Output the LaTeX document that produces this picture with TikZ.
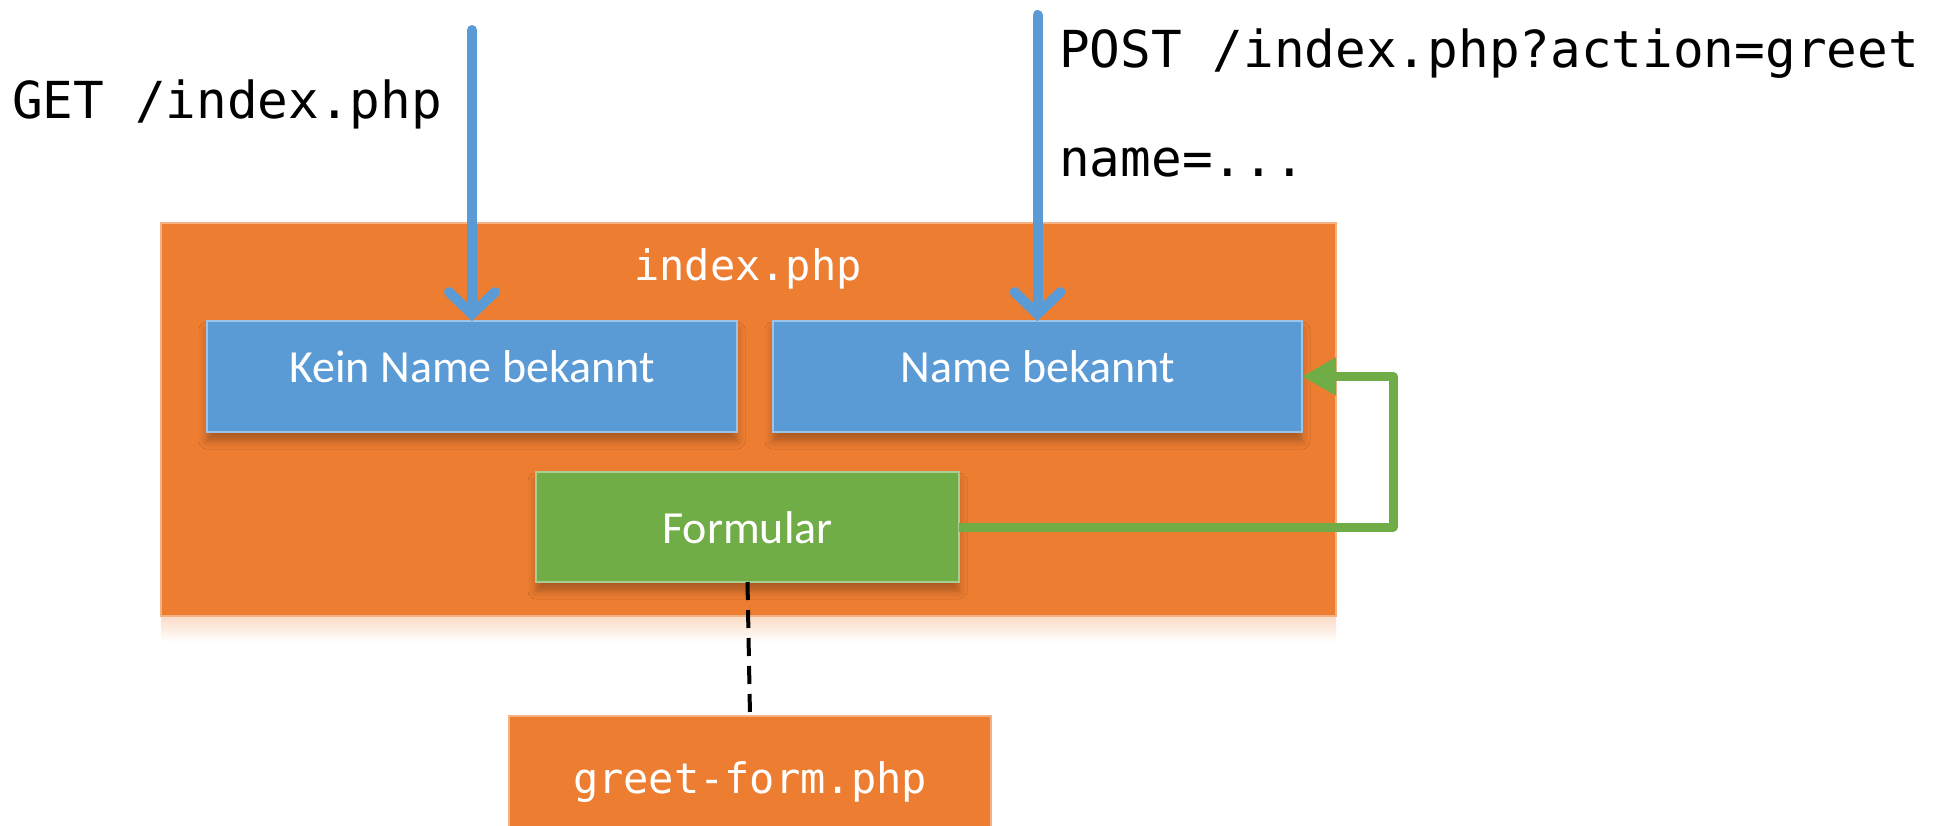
\documentclass[tikz,border=0pt]{standalone}
\usepackage{fontspec}
\setmainfont{Carlito}
\setmonofont{DejaVu Sans Mono}
\usetikzlibrary{arrows.meta,shadows.blur}
\definecolor{ofill}{HTML}{ED7D31}
\definecolor{bfill}{HTML}{5B9BD5}
\definecolor{gfill}{HTML}{70AD47}
\tikzset{
  box/.style={rectangle, inner sep=0pt, outer sep=0pt, fill=#1, draw=#1!60!white, line width=1.2pt},
  innershadow/.style={blur shadow={shadow xshift=0pt, shadow yshift=-9pt, shadow blur radius=8pt, shadow opacity=28}},
  peachglow/.style={draw=none, top color=ofill!28!white, bottom color=white},
  toplabel/.style={font=\ttfamily\fontsize{51}{60}\selectfont, text=black, inner sep=0pt, anchor=base west},
  innermono/.style={font=\ttfamily\fontsize{42}{50}\selectfont, text=white, inner sep=0pt, anchor=base},
  sanslabel/.style={font=\fontsize{46}{54}\selectfont, text=white, inner sep=0pt, anchor=base},
  bluearrow/.style={draw=bfill, line width=10pt, line cap=round, -{Straight Barb[length=22pt,width=46pt,line cap=round]}},
  greenarrow/.style={draw=gfill, line width=9pt, line join=round, -{Triangle[length=34pt,width=36pt]}},
  dashlink/.style={draw=black, line width=4pt, dash pattern=on 18pt off 10pt}
}
\begin{document}
\begin{tikzpicture}[x=1pt,y=-1pt]
\clip (0,0) rectangle (1943,825);
\fill[white] (0,0) rectangle (1943,825);

% soft glow below the main box
\shade[peachglow] (161,616) rectangle (1336,642);

% boxes
\node[box=ofill, minimum width=1175pt, minimum height=393pt] (main) at (748.5,419.5) {};
\node[box=bfill, innershadow, minimum width=530pt, minimum height=111pt] (kein) at (472,376.5) {};
\node[box=bfill, innershadow, minimum width=529pt, minimum height=111pt] (name) at (1037.5,376.5) {};
\node[box=gfill, innershadow, minimum width=423pt, minimum height=110pt] (form) at (747.5,527) {};
\node[box=ofill, minimum width=482pt, minimum height=140pt] (greet) at (750,786) {};

% texts
\node[toplabel] (gettxt) at (12,118) {GET /index.php};
\node[toplabel] (posttxt) at (1059,67) {POST /index.php?action=greet};
\node[toplabel] (paramtxt) at (1059,176) {name=...};
\node[innermono] (maintxt) at (748,280) {index.php};
\node[sanslabel] (keintxt) at (472,382) {Kein Name bekannt};
\node[sanslabel] (nametxt) at (1037.5,382) {Name bekannt};
\node[sanslabel] (formtxt) at (747.5,543) {Formular};
\node[innermono] (greettxt) at (750,793) {greet-form.php};

% connectors
\coordinate (getstart) at (472,30);
\coordinate (poststart) at (1037.5,15);
\draw[bluearrow] (getstart) -- (kein.north);
\draw[bluearrow] (poststart) -- (name.north);
\draw[greenarrow] (form.east) -- ++(434,0) |- (name.east);
\draw[dashlink] (form.south) -- (greet.north);
\end{tikzpicture}
\end{document}
